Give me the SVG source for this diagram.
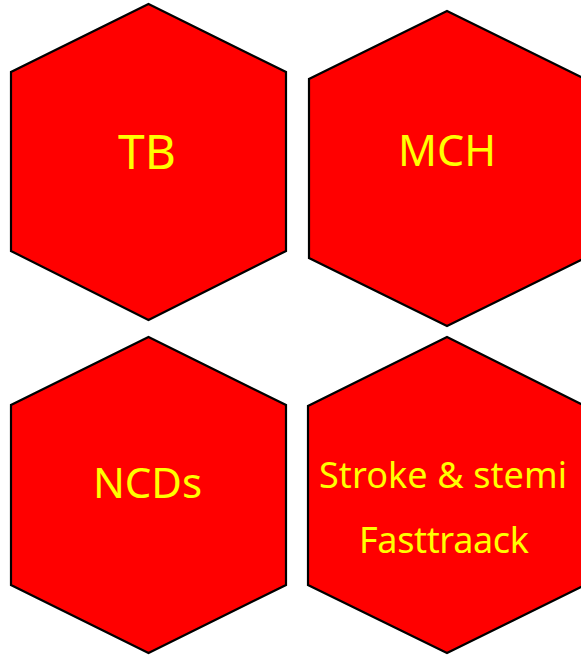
<svg xmlns="http://www.w3.org/2000/svg" width="581" height="655" viewBox="0 0 581 655">
<style>
.hex{fill:#ff0000;stroke:#000;stroke-width:2.2;stroke-linejoin:miter}
.lbl{fill:#ffff00;font-family:"Noto Sans","Open Sans","DejaVu Sans",sans-serif;text-anchor:middle}
</style>
<rect width="581" height="655" fill="#fff"/>
<g id="tb">
<polygon class="hex" points="148.5,4 286,72 286,251 148.5,320 11,251 11,72"/>
<text class="lbl" x="147" y="169" font-size="48">TB</text>
</g>
<g id="mch">
<polygon class="hex" points="447,11 585,79 585,258 447,326 309,258 309,79"/>
<text class="lbl" x="447" y="166" font-size="43">MCH</text>
</g>
<g id="ncds">
<polygon class="hex" points="148.5,337 286,405 286,585 148.5,653 11,585 11,405"/>
<text class="lbl" x="147.5" y="498" font-size="42">NCDs</text>
</g>
<g id="stroke">
<polygon class="hex" points="447,337 585,406 585,585 447,653 308,585 308,406"/>
<text class="lbl" x="443" y="488" font-size="36" textLength="248">Stroke &amp; stemi</text>
<text class="lbl" x="444" y="553" font-size="36" textLength="170">Fasttraack</text>
</g>
<g id="connectors"/>
</svg>
